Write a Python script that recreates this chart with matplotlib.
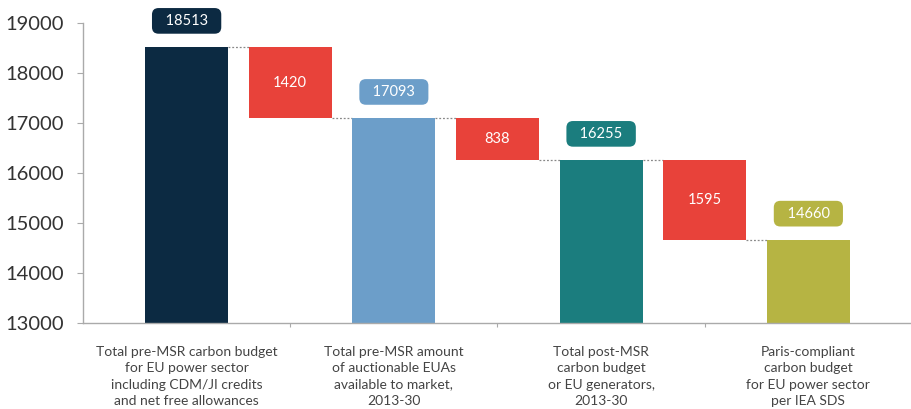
import matplotlib
matplotlib.use("Agg")
import matplotlib.pyplot as plt

# Waterfall data
categories = [
    "Total pre-MSR carbon budget\nfor EU power sector\nincluding CDM/JI credits\nand net free allowances",
    "Total pre-MSR amount\nof auctionable EUAs\navailable to market,\n2013-30",
    "Total post-MSR\ncarbon budget\nor EU generators,\n2013-30",
    "Paris-compliant\ncarbon budget\nfor EU power sector\nper IEA SDS",
]
totals = [18513, 17093, 16255, 14660]
reductions = [1420, 838, 1595]
total_colors = ["#0c2a42", "#6c9ec9", "#1b7d7e", "#b6b443"]
reduction_color = "#e8423a"
y_ticks = [13000, 14000, 15000, 16000, 17000, 18000, 19000]
baseline = 13000

plt.rcParams["font.family"] = ["Lato", "DejaVu Sans"]

fig = plt.figure(figsize=(9.12, 4.09), dpi=100)
ax = fig.add_axes([0.091, 0.21, 0.909, 0.734])

width = 0.8
for i, total in enumerate(totals):
    x = 2 * i
    ax.bar(x, total - baseline, bottom=baseline, width=width,
           color=total_colors[i], zorder=2)
    ax.annotate(f"  {total}  ", xy=(x, total), xytext=(0, 19),
                textcoords="offset points", ha="center", va="center",
                fontsize=10.5, color="white",
                bbox=dict(boxstyle="round,pad=0.4,rounding_size=0.45",
                          fc=total_colors[i], ec="none"))
    if i < len(reductions):
        red = reductions[i]
        xr = x + 1
        top = total
        bottom = total - red
        ax.bar(xr, red, bottom=bottom, width=width,
               color=reduction_color, zorder=2)
        ax.text(xr, (top + bottom) / 2, f"{red}", ha="center", va="center",
                fontsize=10.5, color="white", zorder=3)
        # connectors
        ax.plot([x + width / 2, xr - width / 2], [top, top], ls=(0, (1.5, 1.5)),
                color="#888888", lw=0.9, zorder=1)
        ax.plot([xr + width / 2, xr + 1 - width / 2], [bottom, bottom],
                ls=(0, (1.5, 1.5)), color="#888888", lw=0.9, zorder=1)

ax.set_xlim(-1, 7)
ax.set_ylim(13000, 19000)
ax.set_yticks(y_ticks)
ax.set_yticklabels([str(t) for t in y_ticks], fontsize=14.5, color="#333333")
ax.tick_params(axis="y", length=4, color="#aaaaaa", pad=10)
ax.set_xticks([1, 3, 5])
ax.set_xticklabels([])
ax.tick_params(axis="x", length=3, color="#aaaaaa", direction="out")

for i, cat in enumerate(categories):
    ax.text(2 * i, 12550, cat, ha="center", va="top", fontsize=10,
            color="#444444", linespacing=1.45,
            family=["Liberation Sans Narrow", "Lato", "DejaVu Sans"])

for s in ["top", "right"]:
    ax.spines[s].set_visible(False)
for s in ["left", "bottom"]:
    ax.spines[s].set_color("#aaaaaa")
    ax.spines[s].set_linewidth(1.0)

fig.savefig("out.png", dpi=100, facecolor="white")
